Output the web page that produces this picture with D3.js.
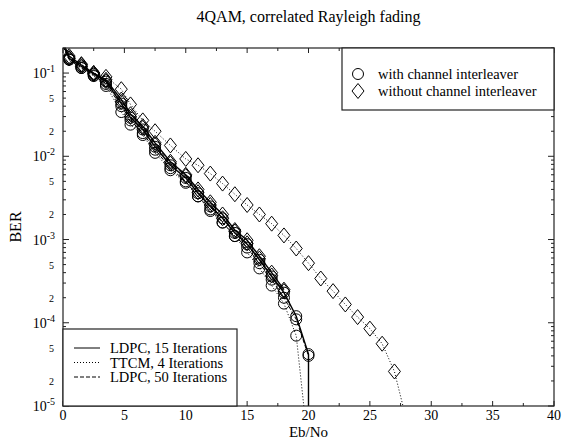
<!DOCTYPE html>
<html>
<head>
<meta charset="utf-8">
<title>4QAM, correlated Rayleigh fading</title>
<script src="https://cdn.jsdelivr.net/npm/d3@7"></script>
<style>
  body { margin: 0; background: #fff; }
  svg text { font-family: "Liberation Serif", "Times New Roman", serif; fill: #000; }
</style>
</head>
<body>
<svg id="chart" width="570" height="440"></svg>
<script>
// Eb/No grids (dB)
let ebnoLdpc = [0, 0.5, 1.5, 2.5, 3.5, 4.75, 5.5, 6.5, 7.5, 8.75, 10, 11, 12, 13, 14, 15, 16, 17, 18, 19, 20, 20];
let ebnoLdpcNo = [0, 0.5, 1.5, 2.5, 3.5, 4.75, 5.5, 6.5, 7.5, 8.75, 10, 11, 12, 13, 14, 15, 16, 17, 18];
let ebnoTtcm = [0, 0.5, 1.5, 2.5, 3.5, 4.75, 5.5, 6.5, 7.5, 8.75, 10, 11, 12, 13, 14, 15, 16, 17, 18, 19, 20];
let ebnoTtcmNo = [0, 0.5, 1.5, 2.5, 3.5, 4.75, 5.5, 6.5, 7.5, 8.75, 10, 11, 12, 13, 14, 15, 16, 17, 18, 19, 20, 21, 22, 23, 24, 25, 26, 27, 28];

// BER values (first/last points run outside the plot and get clipped)
let ldpc15With = [0.22, 0.15, 0.12, 0.098, 0.079, 0.043, 0.029, 0.021, 0.013, 0.0078, 0.0055, 0.0036, 0.0025, 0.0018, 0.0012, 0.00088, 0.00057, 0.00036, 0.00023, 0.00012, 0.000042, 1e-7];
let ldpc15Without = [0.23, 0.16, 0.125, 0.1, 0.083, 0.048, 0.032, 0.023, 0.0145, 0.0086, 0.006, 0.004, 0.0028, 0.002, 0.0013, 0.00098, 0.00063, 0.0004, 0.00025];
let ldpc50With = [0.21, 0.145, 0.115, 0.094, 0.074, 0.04, 0.027, 0.019, 0.012, 0.0072, 0.005, 0.0033, 0.0023, 0.0016, 0.0011, 0.0008, 0.00052, 0.00033, 0.0002, 0.00011, 0.00004, 1e-7];
let ldpc50Without = [0.22, 0.15, 0.12, 0.097, 0.08, 0.045, 0.03, 0.022, 0.0138, 0.0082, 0.0058, 0.0037, 0.0026, 0.0018, 0.00125, 0.0009, 0.00059, 0.00037, 0.00024];
let ttcmWith = [0.21, 0.145, 0.115, 0.092, 0.07, 0.034, 0.024, 0.018, 0.011, 0.0068, 0.0048, 0.0033, 0.0022, 0.0016, 0.0011, 0.0007, 0.00045, 0.00028, 0.00017, 0.00007, 3e-6];
let ttcmWithout = [0.22, 0.152, 0.128, 0.1, 0.09, 0.064, 0.042, 0.027, 0.02, 0.0135, 0.0093, 0.0078, 0.0062, 0.0047, 0.0035, 0.0026, 0.002, 0.00155, 0.00112, 0.00078, 0.00052, 0.00034, 0.00024, 0.000166, 0.000117, 0.000085, 0.000056, 0.000026, 6.6e-6];

let xTicks = [0, 5, 10, 15, 20, 25, 30, 35, 40];
let yDecades = [-1, -2, -3, -4, -5];
let yMinorLabels = [5, 2];

let series = [
  { x: ebnoLdpc, y: ldpc15With, dash: null, marker: "circle" },
  { x: ebnoLdpcNo, y: ldpc15Without, dash: null, marker: "diamond" },
  { x: ebnoLdpc, y: ldpc50With, dash: "4,2", marker: "circle" },
  { x: ebnoLdpcNo, y: ldpc50Without, dash: "4,2", marker: "diamond" },
  { x: ebnoTtcm, y: ttcmWith, dash: "1,2", marker: "circle" },
  { x: ebnoTtcmNo, y: ttcmWithout, dash: "1,2", marker: "diamond" }
];

let svg = d3.select("#chart");
let pLeft = 63, pRight = 554, pTop = 48, pBottom = 406;

let x = d3.scaleLinear().domain([0, 40]).range([pLeft, pRight]);
let y = d3.scaleLog().domain([1e-5, 0.2]).range([pBottom, pTop]);

svg.append("defs").append("clipPath").attr("id", "plotclip")
  .append("rect").attr("x", pLeft).attr("y", pTop).attr("width", pRight - pLeft).attr("height", pBottom - pTop);

// title
svg.append("text").attr("x", (pLeft + pRight) / 2).attr("y", 22)
  .attr("text-anchor", "middle").style("font-size", "16px")
  .text("4QAM, correlated Rayleigh fading");

// axis titles
svg.append("text").attr("x", (pLeft + pRight) / 2).attr("y", 437)
  .attr("text-anchor", "middle").style("font-size", "15px").text("Eb/No");
svg.append("text").attr("transform", "translate(21," + ((pTop + pBottom) / 2) + ") rotate(-90)")
  .attr("text-anchor", "middle").style("font-size", "16px").text("BER");

// ticks
let g = svg.append("g").attr("stroke", "#222").attr("stroke-width", 1);
let xMinor = [];
for (let v = 0; v <= 40; v += 2.5) xMinor.push(v);
xMinor.forEach(function (v) {
  let len = (v % 5 === 0) ? 5 : 3;
  g.append("line").attr("x1", x(v)).attr("x2", x(v)).attr("y1", pBottom).attr("y2", pBottom - len);
  g.append("line").attr("x1", x(v)).attr("x2", x(v)).attr("y1", pTop).attr("y2", pTop + len);
});
let yTickVals = [];
for (let d = -5; d <= -1; d++) {
  for (let m = 1; m <= 9; m++) {
    let v = m * Math.pow(10, d);
    if (v <= 0.2) yTickVals.push({ v: v, major: m === 1 });
  }
}
yTickVals.forEach(function (t) {
  let len = t.major ? 6 : 3;
  g.append("line").attr("x1", pLeft).attr("x2", pLeft + len).attr("y1", y(t.v)).attr("y2", y(t.v));
  g.append("line").attr("x1", pRight).attr("x2", pRight - len).attr("y1", y(t.v)).attr("y2", y(t.v));
});

// x tick labels
svg.selectAll(".xl").data(xTicks).enter().append("text")
  .attr("x", function (d) { return x(d); }).attr("y", 420)
  .attr("text-anchor", "middle").style("font-size", "14px")
  .text(function (d) { return d; });

// y tick labels
yDecades.forEach(function (d) {
  let t = svg.append("text").attr("x", 55).attr("y", y(Math.pow(10, d)) + 5)
    .attr("text-anchor", "end").style("font-size", "14px");
  t.append("tspan").text("10");
  t.append("tspan").attr("dy", -6).style("font-size", "10px").text("-" + (-d));
  if (d > -5) {
    yMinorLabels.forEach(function (m) {
      svg.append("text").attr("x", 54).attr("y", y(m * Math.pow(10, d - 1)) + 4)
        .attr("text-anchor", "end").style("font-size", "10px").text(m);
    });
  }
});

// curves
let plot = svg.append("g").attr("clip-path", "url(#plotclip)");
let line = d3.line().x(function (d) { return x(d[0]); }).y(function (d) { return y(d[1]); });

function drawMarker(sel, kind, cx, cy) {
  if (kind === "circle") {
    sel.append("circle").attr("cx", cx).attr("cy", cy).attr("r", 5.5)
      .attr("fill", "none").attr("stroke", "#000").attr("stroke-width", 1);
  } else {
    sel.append("path")
      .attr("d", "M" + cx + "," + (cy - 7.5) + "L" + (cx + 6) + "," + cy + "L" + cx + "," + (cy + 7.5) + "L" + (cx - 6) + "," + cy + "Z")
      .attr("fill", "none").attr("stroke", "#000").attr("stroke-width", 1);
  }
}

series.forEach(function (s) {
  let pts = s.x.map(function (v, i) { return [v, s.y[i]]; });
  plot.append("path").datum(pts).attr("d", line)
    .attr("fill", "none").attr("stroke", "#000")
    .attr("stroke-width", s.dash ? 1 : 1.4)
    .attr("stroke-dasharray", s.dash);
  pts.forEach(function (p) {
    if (p[1] >= 1e-5 && p[1] <= 0.2) drawMarker(plot, s.marker, x(p[0]), y(p[1]));
  });
});

// frame
svg.append("rect").attr("x", pLeft).attr("y", pTop).attr("width", pRight - pLeft).attr("height", pBottom - pTop)
  .attr("fill", "none").attr("stroke", "#222").attr("stroke-width", 1.2);

// legend top-right (markers)
let lg1 = svg.append("g");
lg1.append("rect").attr("x", 342).attr("y", pTop).attr("width", pRight - 342).attr("height", 62)
  .attr("fill", "#fff").attr("stroke", "#222").attr("stroke-width", 1.2);
drawMarker(lg1, "circle", 358, 74);
lg1.append("text").attr("x", 378).attr("y", 79).style("font-size", "14.5px").text("with channel interleaver");
drawMarker(lg1, "diamond", 358, 91);
lg1.append("text").attr("x", 378).attr("y", 96).style("font-size", "14.5px").text("without channel interleaver");

// legend bottom-left (line styles)
let lineLegend = [
  { label: "LDPC, 15 Iterations", dash: null },
  { label: "TTCM, 4 Iterations", dash: "1,2" },
  { label: "LDPC, 50 Iterations", dash: "4,2" }
];
let lg2 = svg.append("g");
lg2.append("rect").attr("x", pLeft).attr("y", 329).attr("width", 174).attr("height", pBottom - 329)
  .attr("fill", "#fff").attr("stroke", "#222").attr("stroke-width", 1.2);
lineLegend.forEach(function (d, i) {
  let yy = 348 + i * 14.5;
  lg2.append("line").attr("x1", 74).attr("x2", 100).attr("y1", yy).attr("y2", yy)
    .attr("stroke", "#000").attr("stroke-width", 1).attr("stroke-dasharray", d.dash);
  lg2.append("text").attr("x", 110).attr("y", yy + 5).style("font-size", "14.5px").text(d.label);
});
</script>
</body>
</html>
